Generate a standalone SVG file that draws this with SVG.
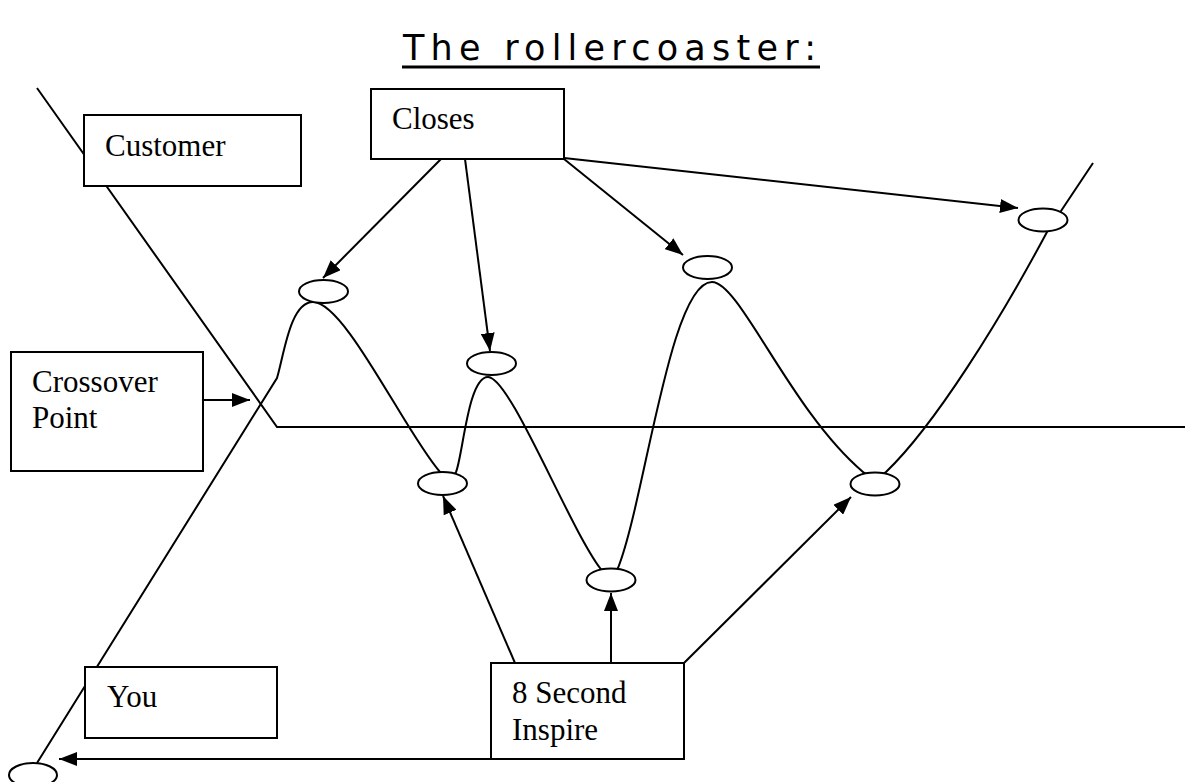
<svg xmlns="http://www.w3.org/2000/svg" width="1185" height="782" viewBox="0 0 1185 782">
  <style>
    .box { fill: #ffffff; stroke: #000000; stroke-width: 2; }
    .car { fill: #ffffff; stroke: #000000; stroke-width: 2; }
    .track { fill: none; stroke: #000000; stroke-width: 2; stroke-linejoin: miter; }
    .arrow { fill: none; stroke: #000000; stroke-width: 2; marker-end: url(#head); }
    .label { font-family: "Liberation Serif", "Times New Roman", serif; font-size: 31px; fill: #000000; }
    .title { font-family: "DejaVu Sans", Verdana, sans-serif; font-size: 35px; fill: #000000; }
  </style>
  <defs>
    <marker id="head" viewBox="0 0 18 14" refX="18" refY="7" markerWidth="18" markerHeight="14" markerUnits="userSpaceOnUse" orient="auto">
      <path d="M0,0 L18,7 L0,14 z" fill="#000000"/>
    </marker>
  </defs>

  <rect width="1185" height="782" fill="#ffffff"/>

  <!-- heading -->
  <g id="title">
    <text class="title" x="403" y="60" textLength="413" lengthAdjust="spacing">The rollercoaster:</text>
    <line x1="402" y1="67" x2="820" y2="67" stroke="#000000" stroke-width="3"/>
  </g>

  <!-- customer line and the ride itself -->
  <g id="tracks">
    <path class="track" d="M37,88 L277,427 L1185,427"/>
    <path class="track" d="M37,763 L277,378
      C284,355 290,302 313,302
      C345,302 405,432 440,472
      C446,480 452,480 456,472
      C463,455 468,377 488,377
      C510,377 568,525 600,568
      C605,576 614,576 618,568
      C645,500 670,282 712,282
      C740,282 790,410 863,472
      C870,478 880,478 886,472
      C935,425 1000,320 1047,232
      L1093,163"/>
  </g>

  <!-- labelled boxes -->
  <g id="customer">
    <rect class="box" x="84" y="115" width="217" height="71"/>
    <text class="label" x="105" y="156">Customer</text>
  </g>
  <g id="closes">
    <rect class="box" x="371" y="89" width="193" height="70"/>
    <text class="label" x="392" y="129">Closes</text>
  </g>
  <g id="crossover">
    <rect class="box" x="11" y="352" width="192" height="119"/>
    <text class="label" x="32" y="392">Crossover</text>
    <text class="label" x="32" y="428">Point</text>
  </g>
  <g id="you">
    <rect class="box" x="85" y="667" width="192" height="71"/>
    <text class="label" x="107" y="707">You</text>
  </g>
  <g id="inspire">
    <rect class="box" x="491" y="663" width="193" height="96"/>
    <text class="label" x="512" y="703">8 Second</text>
    <text class="label" x="512" y="740">Inspire</text>
  </g>

  <!-- cars on the track -->
  <g id="cars">
    <ellipse id="car-start" class="car" cx="33" cy="775" rx="24" ry="12"/>
    <ellipse id="car-peak1" class="car" cx="323.5" cy="291.5" rx="24.5" ry="11.5"/>
    <ellipse id="car-dip1" class="car" cx="442.5" cy="483.5" rx="24.5" ry="11.5"/>
    <ellipse id="car-peak2" class="car" cx="491.5" cy="363.5" rx="24.5" ry="11.5"/>
    <ellipse id="car-dip2" class="car" cx="611" cy="580" rx="24.5" ry="11.5"/>
    <ellipse id="car-peak3" class="car" cx="707.5" cy="267.5" rx="24.5" ry="11.5"/>
    <ellipse id="car-dip3" class="car" cx="875" cy="484" rx="24.5" ry="11.5"/>
    <ellipse id="car-peak4" class="car" cx="1043" cy="220" rx="24.5" ry="11.5"/>
  </g>

  <!-- arrows -->
  <g id="connectors">
    <line class="arrow" x1="441" y1="159" x2="323" y2="278"/>
    <line class="arrow" x1="465" y1="159" x2="490" y2="351"/>
    <line class="arrow" x1="564" y1="159" x2="683" y2="255"/>
    <line class="arrow" x1="564" y1="158" x2="1018" y2="208"/>
    <line class="arrow" x1="203" y1="400" x2="250" y2="400"/>
    <line class="arrow" x1="515" y1="663" x2="443" y2="496"/>
    <line class="arrow" x1="611" y1="663" x2="611" y2="593"/>
    <line class="arrow" x1="684" y1="663" x2="851" y2="497"/>
    <line class="arrow" x1="491" y1="759" x2="59" y2="759"/>
  </g>
</svg>
